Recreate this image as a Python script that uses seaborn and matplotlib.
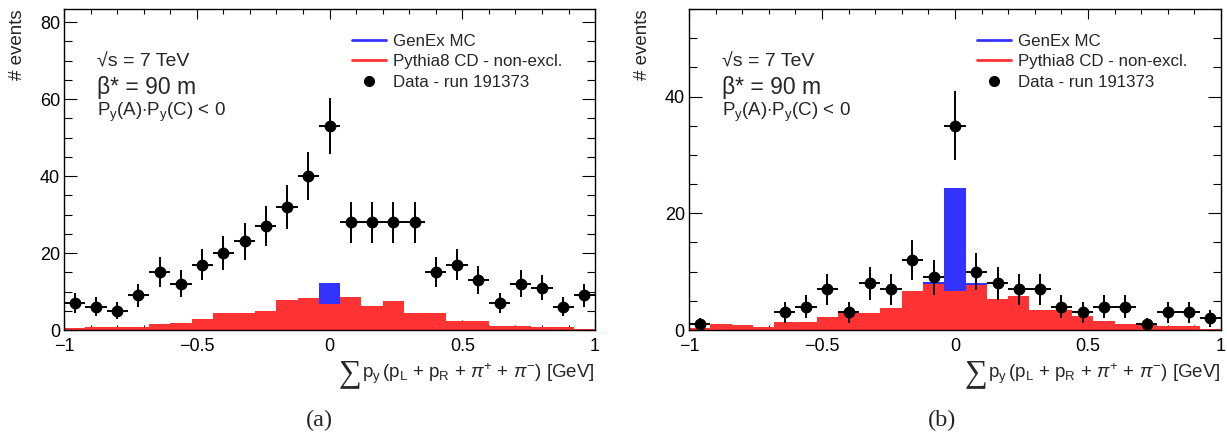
import numpy as np
import pandas as pd
import matplotlib
matplotlib.use("Agg")
import matplotlib.pyplot as plt
import seaborn as sns
from matplotlib.ticker import MultipleLocator
from matplotlib.lines import Line2D

# Binning of the summed vertical momentum (GeV): 25 bins on [-1, 1]
n_bins = 25
x_range = (-1.0, 1.0)
bin_edges = np.linspace(x_range[0], x_range[1], n_bins + 1)
bin_centers = 0.5 * (bin_edges[:-1] + bin_edges[1:])

# (a) Py(A)*Py(C) < 0 selection
data_a = [7, 6, 5, 9, 15, 12, 17, 20, 23, 27, 32, 40, 53,
          28, 28, 28, 28, 15, 17, 13, 7, 12, 11, 6, 9]
pythia_a = [0.5, 0.9, 0.7, 0.9, 1.5, 1.9, 2.9, 4.3, 4.3, 4.9, 7.8, 8.4, 6.7,
            8.7, 6.2, 7.5, 4.3, 4.5, 2.3, 2.3, 1.1, 1.0, 0.7, 0.7, 0.2]
genex_a = [0, 0, 0, 0, 0, 0, 0, 0, 0, 0, 0, 0, 5.4,
           0, 0, 0, 0, 0, 0, 0, 0, 0, 0, 0, 0]

# (b) second selection
data_b = [1, 0, 0, 0, 3, 4, 7, 3, 8, 7, 12, 9, 35,
          10, 8, 7, 7, 4, 3, 4, 4, 1, 3, 3, 2]
pythia_b = [0.3, 1.0, 0.85, 0.6, 1.4, 1.4, 2.3, 2.9, 2.9, 3.8, 6.7, 7.9, 6.7,
            7.7, 5.3, 5.9, 3.4, 3.4, 2.4, 1.6, 1.0, 0.85, 0.75, 0.65, 0.15]
genex_b = [0, 0, 0, 0, 0, 0, 0, 0, 0, 0, 0, 0.4, 17.6,
           0.4, 0, 0, 0, 0, 0, 0, 0, 0, 0, 0, 0]

xticks = [-1, -0.5, 0, 0.5, 1]
xtick_labels = ["\u22121", "\u22120.5", "0", "0.5", "1"]

RED = "#ff3333"
BLUE = "#3333ff"

sns.set_theme(style="ticks")
plt.rcParams["font.family"] = ["Liberation Sans", "DejaVu Sans"]
plt.rcParams["mathtext.fontset"] = "custom"
plt.rcParams["mathtext.rm"] = "Liberation Sans"
plt.rcParams["mathtext.it"] = "Liberation Sans:italic"
plt.rcParams["mathtext.bf"] = "Liberation Sans:bold"
plt.rcParams["mathtext.sf"] = "Liberation Sans"

fig = plt.figure(figsize=(12.27, 4.32), dpi=100)
ax_a = fig.add_axes([0.0522, 0.2361, 0.4328, 0.743])
ax_b = fig.add_axes([0.5615, 0.2361, 0.4336, 0.743])

xlabel = (r"$\mathrm{p}_{\mathrm{y}}\,(\mathrm{p}_{\mathrm{L}}$ + "
          r"$\mathrm{p}_{\mathrm{R}}$ + $\pi^{+}$ + $\pi^{-}$) [GeV]")


def draw_panel(ax, data, pythia, genex, ymax, ymajor):
    pythia = np.asarray(pythia, float)
    hist = pd.DataFrame({"x": bin_centers,
                         "pythia": pythia,
                         "total": pythia + np.asarray(genex, float)})
    # GenEx stacked on top of Pythia8: draw the sum in blue, Pythia8 over it
    sns.histplot(data=hist, x="x", weights="total", bins=n_bins,
                 binrange=x_range, element="step", fill=True, color=BLUE,
                 alpha=1, linewidth=0, ax=ax)
    sns.histplot(data=hist, x="x", weights="pythia", bins=n_bins,
                 binrange=x_range, element="step", fill=True, color=RED,
                 alpha=1, linewidth=0, ax=ax)

    counts = np.asarray(data, float)
    keep = counts > 0
    half_width = np.diff(bin_edges)[keep] / 2
    ax.errorbar(bin_centers[keep], counts[keep], xerr=half_width,
                yerr=np.sqrt(counts[keep]), fmt="o", color="black",
                ms=7.5, elinewidth=1.4, capsize=0, zorder=5)

    ax.set_xlim(*x_range)
    ax.set_ylim(0, ymax)
    ax.set_xticks(xticks)
    ax.set_xticklabels(xtick_labels)
    ax.xaxis.set_minor_locator(MultipleLocator(0.1))
    ax.yaxis.set_major_locator(MultipleLocator(ymajor))
    ax.yaxis.set_minor_locator(MultipleLocator(5))
    ax.tick_params(which="both", direction="in", top=True, right=True,
                   width=0.8, color="black", labelsize=13, labelcolor="black")
    ax.tick_params(axis="x", which="major", length=7.5, pad=6)
    ax.tick_params(axis="x", which="minor", length=3.8)
    ax.tick_params(axis="y", which="major", length=9.5, pad=3)
    ax.tick_params(axis="y", which="minor", length=5.5)
    for sp in ax.spines.values():
        sp.set_color("black")
        sp.set_linewidth(1.0)

    ax.set_ylabel("# events", loc="top", fontsize=13.5, labelpad=10)
    lab = ax.set_xlabel(xlabel, loc="right", fontsize=13.5)
    ax.xaxis.set_label_coords(1.0, -0.096)
    ax.annotate("\u2211", xy=(-0.004, 0.5), xycoords=lab, ha="right",
                va="center", fontsize=23,
                family=["Liberation Serif", "DejaVu Serif"])

    ax.text(0.0615, 0.820, "\u221As = 7 TeV", transform=ax.transAxes,
            fontsize=14, va="baseline")
    ax.text(0.0615, 0.735, "\u03b2* = 90 m", transform=ax.transAxes,
            fontsize=16.5, va="baseline")
    ax.text(0.0615, 0.668, r"P$_{\mathrm{y}}$(A)$\cdot$P$_{\mathrm{y}}$(C) < 0",
            transform=ax.transAxes, fontsize=13.5, va="baseline")

    handles = [Line2D([], [], color=BLUE, lw=2),
               Line2D([], [], color=RED, lw=2),
               Line2D([], [], color="black", marker="o", ls="none", ms=7)]
    labels = ["GenEx MC", "Pythia8 CD - non-excl.", "Data - run 191373"]
    ax.legend(handles, labels, loc="upper left", bbox_to_anchor=(0.542, 0.923),
              frameon=False, fontsize=12.2, borderpad=0, borderaxespad=0,
              handlelength=2.0, handletextpad=0.4, labelspacing=0.33)


draw_panel(ax_a, data_a, pythia_a, genex_a, 83.4, 20)
draw_panel(ax_b, data_b, pythia_b, genex_b, 55.0, 20)

caption_font = dict(fontsize=17.5, family=["Liberation Serif", "DejaVu Serif"],
                    ha="center", va="center")
fig.text(319 / 1227, 1 - 420 / 432, "(a)", **caption_font)
fig.text(942 / 1227, 1 - 420 / 432, "(b)", **caption_font)

fig.savefig("out.png", dpi=100)
